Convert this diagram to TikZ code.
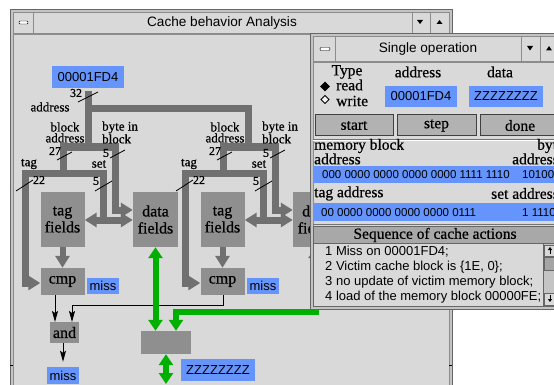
\documentclass[tikz,border=0pt]{standalone}
\usepackage{fontspec}
\setmainfont{Liberation Serif}
\setsansfont{Liberation Sans}
\newfontfamily\heavyserif{Liberation Serif}[FakeBold=0.6]
\usetikzlibrary{arrows.meta}

\definecolor{panel}{RGB}{217,217,217}
\definecolor{framegray}{RGB}{196,196,196}
\definecolor{busgray}{RGB}{112,112,112}
\definecolor{boxgray}{RGB}{143,143,143}
\definecolor{fieldblue}{RGB}{100,148,252}
\definecolor{datagreen}{RGB}{0,176,0}
\definecolor{headgray}{RGB}{168,168,168}
\definecolor{btngray}{RGB}{178,178,178}

\tikzset{
  bus/.style={line width=7pt, draw=busgray},
  busto/.style={bus, -{Triangle[length=12pt,width=14pt]}},
  busboth/.style={bus, {Triangle[length=12pt,width=14pt]}-{Triangle[length=12pt,width=14pt]}},
  gbus/.style={line width=6pt, draw=datagreen,
    {Triangle[length=11pt,width=14pt]}-{Triangle[length=11pt,width=14pt]}},
  wire/.style={line width=1pt, -{Stealth[length=11pt,width=6pt,inset=2pt]}},
  tick/.style={line width=0.8pt},
  unit/.style={fill=boxgray, inner sep=0pt, align=center, font=\heavyserif\fontsize{16}{17}\selectfont},
  field/.style={fill=fieldblue, inner sep=0pt, font=\sffamily\fontsize{13}{13}\selectfont},
  lbl/.style={inner sep=0pt, align=center, font=\heavyserif\fontsize{13}{11}\selectfont},
  num/.style={inner sep=0pt, font=\heavyserif\fontsize{12}{12}\selectfont},
  oplbl/.style={inner sep=0pt, font=\heavyserif\fontsize{15.5}{13}\selectfont},
  bits/.style={inner sep=0pt, font=\sffamily\fontsize{11.5}{11.5}\selectfont},
  entry/.style={inner sep=0pt, anchor=west, font=\sffamily\fontsize{13}{13}\selectfont},
  wintitle/.style={inner sep=0pt, font=\sffamily\fontsize{13.6}{14}\selectfont},
  btn/.style={draw=black!75, line width=1pt, fill=btngray, inner sep=0pt,
    minimum height=21pt, font=\heavyserif\fontsize{15.5}{15.5}\selectfont},
}

\begin{document}
\begin{tikzpicture}[x=1pt, y=-1pt]
  \useasboundingbox (0,0) rectangle (554,385);
  \clip (0,0) rectangle (554,385);
  \fill[white] (0,0) rectangle (554,385);

  % main window
  \draw[black!60, fill=framegray] (10,9) rectangle (452,400);
  \draw[black!45, fill=panel] (13,34) rectangle (449,400);
  \draw[black!45, fill=panel] (13,12) rectangle (449,33);
  \draw[black!45] (33,12) -- (33,33);
  \draw[black!45] (412,12) -- (412,33) (430,12) -- (430,33);
  \draw[fill=white, rounded corners=1pt] (19,21) rectangle (28,24);
  \fill (417,20) -- (423,20) -- (420,24) -- cycle;
  \fill (436.5,24) -- (442.5,24) -- (439.5,20) -- cycle;
  \draw (10,365) -- (13,365) (449,365) -- (452,365);
  \node[wintitle] (maintitle) at (222,23) {Cache behavior Analysis};

  % address input
  \node[field, minimum width=72pt, minimum height=22pt] (addrin) at (88,77) {00001FD4};
  \coordinate (busin) at (88,91);
  \coordinate (fork) at (88,109);
  \coordinate (blk1) at (88,147);
  \coordinate (blk2) at (248,147);
  \draw[bus] (busin) -- (blk1);
  \draw[bus] (fork) -| (blk2);
  \draw[tick] (78,102) -- (98,92);
  \node[num] (w32) at (76,93) {32};
  \node[lbl] (addrl) at (50,107) {address};

  % two cache sets
  \foreach \s/\dx in {1/0,2/160}{
  \begin{scope}[xshift=\dx pt]
    \coordinate (ts\s) at (63,173);
    \coordinate (bc\s) at (115,210);
    \coordinate (tc\s) at (25,283);
    \coordinate (sc\s) at (103,220);
    \node[unit, minimum width=44pt, minimum height=55pt] (tf\s) at (62.5,219.5) {tag\\fields};
    \node[unit, minimum width=45pt, minimum height=55pt] (df\s) at (155.5,219.5) {data\\fields};
    \node[unit, minimum width=44pt, minimum height=27pt] (cmp\s) at (62.5,281.5) {cmp};
    \node[field, minimum width=32pt, minimum height=16pt] (miss\s) at (103,286) {miss};
    % block address / byte in block
    \draw[bus] (blk\s) -| (ts\s);
    \draw[busto] (blk\s) -| (bc\s) -- (bc\s -| df\s.west);
    % tag / set
    \draw[busto] (ts\s) -| (tc\s) -- (tc\s -| cmp\s.west);
    \draw[bus] (ts\s) -| (sc\s);
    \draw[busboth] (sc\s -| tf\s.east) -- (sc\s -| df\s.west);
    \draw[busto, line width=6pt] (tf\s) -- (cmp\s);
    % field names and widths
    \node[lbl] (blkl\s) at (65,132.5) {block\\address};
    \node[lbl, align=left, anchor=west] (bytel\s) at (102,132.5) {byte in\\block};
    \node[lbl] (tagl\s) at (29,164) {tag};
    \node[lbl] (setl\s) at (99,164) {set};
    \draw[tick] (57,160) -- (72,152);
    \node[num] (w27\s) at (55,151) {27};
    \draw[tick] (110,158) -- (125,150);
    \node[num] (w5b\s) at (106,153) {5};
    \draw[tick] (16,191) -- (33,180);
    \node[num] (w22\s) at (39,180) {22};
    \draw[tick] (95,191) -- (112,181);
    \node[num] (w5s\s) at (96,181) {5};
  \end{scope}
  }

  % hit logic
  \node[unit, minimum width=29pt, minimum height=21pt] (andg) at (64.5,332.5) {and};
  \node[field, minimum width=32pt, minimum height=17pt] (missout) at (63,375.5) {miss};
  \coordinate (in1) at (55,322);
  \coordinate (in2) at (72,322);
  \coordinate (bend) at (223,305);
  \draw[wire] (in1 |- cmp1.south) -- (in1);
  \draw[wire] (bend |- cmp2.south) -- (bend) -| (in2);
  \draw[wire] (andg.south -| missout) -- ([yshift=5pt]missout.north);

  % data path
  \node[unit, minimum width=50pt, minimum height=23pt] (mux) at (166,342.5) {};
  \node[field, minimum width=74pt, minimum height=22pt] (zout) at (218,370) {ZZZZZZZZ};
  \coordinate (gbend) at (176,312);
  \coordinate (gout) at (166,384);
  \draw[gbus] (df1.south) -- (df1.south |- mux.north);
  \draw[gbus] (df2.south) |- (gbend) -- (gbend |- mux.north);
  \draw[gbus] (mux.south) -- (gout);

  % single operation window
  \draw[black!60, fill=framegray] (310,33) rectangle (570,309);
  \draw[black!45, fill=panel] (313,62) rectangle (570,306);
  \draw[black!45, fill=panel] (313,36) rectangle (570,61);
  \draw[black!45] (335,36) -- (335,61) (521,36) -- (521,61) (540,36) -- (540,61) (560,36) -- (560,61);
  \draw[fill=white, rounded corners=1pt] (320,47.5) rectangle (330,50.5);
  \fill (527,46) -- (533,46) -- (530,50.5) -- cycle;
  \fill (546,50.5) -- (552,50.5) -- (549,46) -- cycle;
  \node[wintitle] (optitle) at (428,49) {Single operation};

  \node[oplbl] (typehd) at (347,72) {Type};
  \node[oplbl] (addrhd) at (418,72) {address};
  \node[oplbl] (datahd) at (500,72) {data};
  \draw[fill=black] (325,82) -- (329.5,86.5) -- (325,91) -- (320.5,86.5) -- cycle;
  \draw[fill=white!70!panel, line width=0.8pt] (325,95.5) -- (329,99.5) -- (325,103.5) -- (321,99.5) -- cycle;
  \node[oplbl, anchor=west] (rdopt) at (336,85) {read};
  \node[oplbl, anchor=west] (wropt) at (336,101) {write};
  \node[field, minimum width=72pt, minimum height=21pt] (opaddr) at (421,96.5) {00001FD4};
  \node[field, minimum width=74pt, minimum height=21pt] (opdata) at (506,96.5) {ZZZZZZZZ};

  \node[btn, minimum width=78pt] (startbtn) at (354,125.5) {start};
  \node[btn, minimum width=79pt] (stepbtn) at (436.5,125.5) {step};
  \node[btn, minimum width=80pt] (donebtn) at (520,125.5) {done};
  \draw[black!55] (313,139) -- (570,139);
  \draw[white] (313,140.5) -- (570,140.5);

  % address split
  \node[oplbl, anchor=west] (memlbl) at (314,146) {memory block};
  \node[oplbl, anchor=west] (memlbl2) at (314,159) {address};
  \node[oplbl, anchor=west] (bytelbl) at (537,146) {byte};
  \node[oplbl, anchor=west] (bytelbl2) at (512,159) {address};
  \fill[fieldblue] (313,166) rectangle (570,183);
  \node[bits, anchor=west] (blkbits) at (322,174.5) {000 0000 0000 0000 0000 1111 1110};
  \node[bits, anchor=west] (offbits) at (522,174.5) {10100};
  \node[oplbl, anchor=west] (taglbl) at (314,193.5) {tag address};
  \node[oplbl, anchor=west] (setlbl) at (491,193.5) {set address};
  \fill[fieldblue] (313,203) rectangle (570,221);
  \node[bits, anchor=west] (tagbits) at (321,212.5) {00 0000 0000 0000 0000 0111};
  \node[bits, anchor=west] (setbits) at (522,212.5) {1 1110};
  \draw[black!55] (313,224) -- (570,224);

  % action log
  \draw[black!60, fill=headgray] (313,226) rectangle (570,243);
  \node[oplbl] (seqhd) at (435,235) {Sequence of cache actions};
  \draw[black!60, fill=panel] (313,243) rectangle (543,306);
  \node[entry] (act1) at (325,252) {1 Miss on 00001FD4;};
  \node[entry] (act2) at (325,267) {2 Victim cache block is \{1E, 0\};};
  \node[entry] (act3) at (325,282) {3 no update of victim memory block;};
  \node[entry] (act4) at (325,297) {4 load of the memory block 00000FE;};
  \draw[black!60, fill=framegray] (543,243) rectangle (561,306);
  \draw[black!60, fill=panel] (544,245) rectangle (560,256);
  \draw[black!60, fill=boxgray!80] (544,257) rectangle (560,270);
  \draw[black!60, fill=panel] (544,293) rectangle (560,305);
  \draw[line width=1pt, -{Triangle[length=3pt,width=4pt]}] (550,254) -- (550,247);
  \draw[line width=1pt, -{Triangle[length=3pt,width=4pt]}] (550,295) -- (550,302);
\end{tikzpicture}
\end{document}
